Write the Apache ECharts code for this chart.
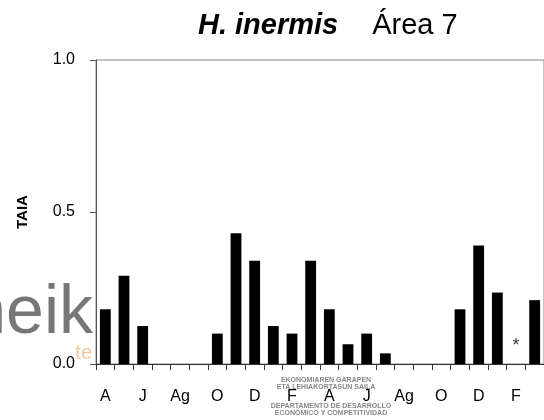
<!DOCTYPE html>
<html>
<head>
<meta charset="utf-8">
<script src="https://cdn.jsdelivr.net/npm/echarts@6/dist/echarts.min.js"></script>
<style>
html,body{margin:0;padding:0;background:#fff;}
#chart{width:544px;height:420px;}
</style>
</head>
<body>
<div id="chart"></div>
<script>
// Categories: months from April to March over two years (only some are labelled)
var monthLabels = ['A','','J','','Ag','','O','','D','','F','','A','','J','','Ag','','O','','D','','F',''];
// TAIA values per month (null = no data)
var taiaValues = [0.18,0.29,0.125,0,0,0,0.10,0.43,0.34,0.125,0.10,0.34,0.18,0.065,0.10,0.035,0,0,0,0.18,0.39,0.235,null,0.21];
// Asterisk marker (month without sample)
var asteriskMarks = [null,null,null,null,null,null,null,null,null,null,null,null,null,null,null,null,null,null,null,null,null,null,0.06,null];
var yTicks = [0, 0.5, 1.0];
var titleSpecies = 'H. inermis';
var titleArea = 'Área 7';
var yName = 'TAIA';
var logoLines = ['EKONOMIAREN GARAPEN','ETA LEHIAKORTASUN SAILA','DEPARTAMENTO DE DESARROLLO','ECONÓMICO Y COMPETITIVIDAD'];

var font = 'Liberation Sans, Arial, sans-serif';
var chart = echarts.init(document.getElementById('chart'), null, {renderer:'canvas'});
chart.setOption({
  animation:false,
  backgroundColor:'#fff',
  title:{
    text:'{a|' + titleSpecies + '}{b|' + titleArea + '}',
    left:193, top:6,
    textStyle:{
      rich:{
        a:{fontSize:29, fontWeight:'bold', fontStyle:'italic', fontFamily:font, color:'#000'},
        b:{fontSize:29, fontWeight:'normal', fontStyle:'normal', fontFamily:font, color:'#000', padding:[0,0,0,34]}
      }
    }
  },
  graphic:[
    {type:'text', z:-10, style:{text:'neik', x:93, y:314, align:'right', verticalAlign:'middle', font:'68px '+font, fill:'#555', opacity:0.8}},
    {type:'text', z:-10, style:{text:'te', x:92, y:353, align:'right', verticalAlign:'middle', font:'20px '+font, fill:'#ee9e5c', opacity:0.6}},
    {type:'text', z:-10, style:{text:logoLines[0], x:326, y:380, align:'center', verticalAlign:'middle', font:'bold 7px '+font, fill:'#888'}},
    {type:'text', z:-10, style:{text:logoLines[1], x:326, y:387.5, align:'center', verticalAlign:'middle', font:'bold 7px '+font, fill:'#888'}},
    {type:'text', z:-10, style:{text:logoLines[2], x:331, y:406.5, align:'center', verticalAlign:'middle', font:'bold 7px '+font, fill:'#888'}},
    {type:'text', z:-10, style:{text:logoLines[3], x:331, y:413.5, align:'center', verticalAlign:'middle', font:'bold 7px '+font, fill:'#888'}}
  ],
  grid:{left:96, top:60, width:450, height:304, show:true, borderColor:'#8a8a8a', borderWidth:1, backgroundColor:'transparent'},
  xAxis:{
    type:'category',
    data:monthLabels,
    axisLine:{lineStyle:{color:'#333', width:1}},
    axisTick:{show:true, interval:0, length:6, lineStyle:{color:'#333'}},
    axisLabel:{interval:0, margin:25, fontSize:16, color:'#000', fontFamily:font},
    splitLine:{show:false}
  },
  yAxis:{
    type:'value', min:0, max:1, interval:0.5,
    name:yName, nameLocation:'middle', nameRotate:90, nameGap:66,
    nameTextStyle:{fontSize:15, fontWeight:'bold', color:'#000', fontFamily:font},
    axisLine:{show:true, lineStyle:{color:'#555', width:1}},
    axisTick:{show:true, length:6, lineStyle:{color:'#555'}},
    axisLabel:{margin:21, fontSize:16, color:'#000', fontFamily:font,
      formatter:function(v){ return yTicks.indexOf(v) >= 0 ? v.toFixed(1) : ''; }},
    splitLine:{show:false}
  },
  series:[
    {type:'bar', data:taiaValues, barWidth:'58%', itemStyle:{color:'#000'}, silent:true},
    {type:'scatter', data:asteriskMarks, symbolSize:0, silent:true,
      label:{show:true, position:'inside', formatter:'*', fontSize:18, color:'#000', fontFamily:font}}
  ]
});
</script>
</body>
</html>
